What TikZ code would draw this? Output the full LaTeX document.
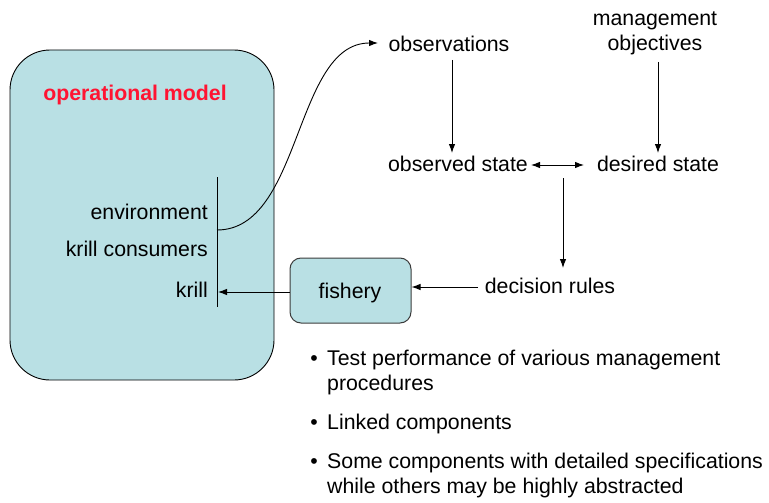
\documentclass[tikz,border=0pt]{standalone}
\usepackage{fontspec}
\setmainfont{Liberation Sans}
\usetikzlibrary{arrows.meta}
\definecolor{boxfill}{RGB}{185,224,228}
\definecolor{titlered}{RGB}{255,20,50}
\definecolor{boxline}{RGB}{60,60,60}
\begin{document}
\begin{tikzpicture}[x=1pt,y=-1pt,
  lbl/.style={inner sep=0pt,anchor=base,font=\fontsize{21.3}{25}\selectfont},
  lblr/.style={lbl,anchor=base east},
  lbll/.style={lbl,anchor=base west},
  arr/.style={-{Latex[length=9pt,width=6.5pt]},line width=0.9pt},
  darr/.style={{Latex[length=9pt,width=6.5pt]}-{Latex[length=9pt,width=6.5pt]},line width=0.9pt},
  bigbox/.style={draw=black,line width=0.9pt,fill=boxfill,rounded corners=40pt},
  smallbox/.style={draw=boxline,line width=1pt,fill=boxfill,rounded corners=11pt}
]
\useasboundingbox (0,0) rectangle (769,503);

% operational model box
\draw[bigbox] (10,50) rectangle (274,380);
\node[lbl,font=\fontsize{21.3}{25}\selectfont\bfseries,text=titlered] (title) at (135,101) {operational model};

% components
\node[lblr] (env) at (208,219) {environment};
\node[lblr] (cons) at (208,256) {krill consumers};
\node[lblr] (krill) at (208,297) {krill};
\coordinate (bartop) at (217,177);
\coordinate (barbot) at (217,307);
\draw[line width=0.9pt] (bartop) -- (barbot);
\coordinate (envout) at (217,230);
\coordinate (krillin) at (218,292);

% fishery box
\node[smallbox,minimum width=121pt,minimum height=65pt,inner sep=0pt] (fishbox) at (350.5,290.5) {};
\node[lbl] (fish) at (350,298) {fishery};

% right side
\node[lbl] (obs) at (449,52) {observations};
\node[lbl] (mgmt) at (655,26) {\parbox[t]{200pt}{\centering management\\objectives}};
\node[lbl] (ostate) at (458,171) {observed state};
\node[lbl] (dstate) at (658,171) {desired state};
\node[lbl] (rules) at (550,293) {decision rules};

\coordinate (obsin) at (378,43);
\coordinate (obsdown1) at (452,60);
\coordinate (obsdown2) at (452,153);
\coordinate (mgdown1) at (658,62);
\coordinate (mgdown2) at (658,153);
\coordinate (dbl1) at (531,165);
\coordinate (dbl2) at (584,165);
\coordinate (dec1) at (563,178);
\coordinate (dec2) at (563,268);
\coordinate (rulesout) at (478,287);

\draw[arr] (envout) .. controls (302,230) and (294,43) .. (obsin);
\draw[arr] (obsdown1) -- (obsdown2);
\draw[arr] (mgdown1) -- (mgdown2);
\draw[darr] (dbl1) -- (dbl2);
\draw[arr] (dec1) -- (dec2);
\draw[arr] (rulesout) -- (fishbox.east |- rulesout);
\draw[arr] (fishbox.west |- krillin) -- (krillin);

% bullets
\node[lbl] (b1) at (314,365) {•};
\node[lbll] (t1) at (327,365) {\parbox[t]{440pt}{\raggedright Test performance of various management\\procedures}};
\node[lbl] (b2) at (314,429) {•};
\node[lbll] (t2) at (327,429) {Linked components};
\node[lbl] (b3) at (314,468) {•};
\node[lbll] (t3) at (327,468) {\parbox[t]{440pt}{\raggedright Some components with detailed specifications\\while others may be highly abstracted}};
\end{tikzpicture}
\end{document}
